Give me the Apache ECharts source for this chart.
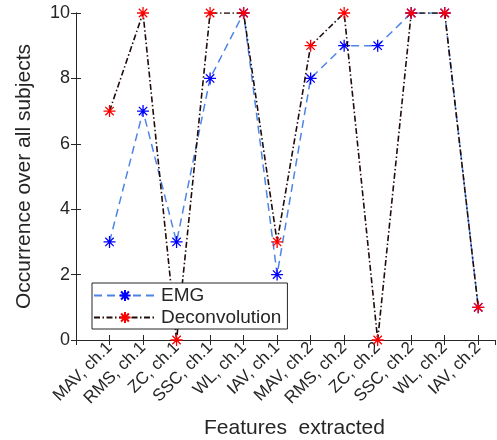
<!DOCTYPE html>
<html>
<head>
<meta charset="utf-8">
<script src="https://cdn.jsdelivr.net/npm/echarts@6/dist/echarts.min.js"></script>
<style>html,body{margin:0;padding:0;background:#fff}#c{width:497px;height:440px}</style>
</head>
<body>
<div id="c"></div>
<script>
const categories = ['MAV, ch.1','RMS, ch.1','ZC, ch.1','SSC, ch.1','WL, ch.1','IAV, ch.1','MAV, ch.2','RMS, ch.2','ZC, ch.2','SSC, ch.2','WL, ch.2','IAV, ch.2'];
const emgValues = [3, 7, 3, 8, 10, 2, 8, 9, 9, 10, 10, 1];
const deconvValues = [7, 10, 0, 10, 10, 3, 9, 10, 0, 10, 10, 1];
const yTicks = [0, 2, 4, 6, 8, 10];

const star = 'path://M0,-5L0,5M-5,0L5,0M-3.5,-3.5L3.5,3.5M-3.5,3.5L3.5,-3.5';
const font = 'Liberation Sans, Arial, Helvetica, sans-serif';
const toPairs = arr => arr.map((v, i) => [i + 1, v]);

const chart = echarts.init(document.getElementById('c'), null, {renderer: 'canvas'});
chart.setOption({
  animation: false,
  backgroundColor: '#fff',
  grid: {left: 76, right: 2, top: 13, bottom: 100, containLabel: false, outerBoundsMode: 'none'},
  xAxis: [{
    type: 'value', min: 0, max: 12.5, interval: 1,
    name: 'Features  extracted', nameLocation: 'middle', nameGap: 78,
    nameTextStyle: {fontFamily: font, fontSize: 21, color: '#262626', padding: [0, 0, 0, 18]},
    axisLine: {show: true, lineStyle: {color: '#262626', width: 1}},
    axisTick: {show: true, inside: true, length: 5, lineStyle: {color: '#262626'}},
    axisLabel: {rotate: 45, fontFamily: font, fontSize: 17, color: '#262626', margin: 5,
      showMinLabel: false, showMaxLabel: false,
      formatter: v => (Number.isInteger(v) && v >= 1 && v <= categories.length) ? categories[v - 1] : ''},
    splitLine: {show: false}
  }, {
    type: 'value', position: 'top', min: 0, max: 12.5, interval: 1,
    axisLine: {show: true, lineStyle: {color: '#262626', width: 1}},
    axisTick: {show: true, inside: true, length: 5, lineStyle: {color: '#262626'}},
    axisLabel: {show: false}, splitLine: {show: false}
  }],
  yAxis: [{
    type: 'value', min: yTicks[0], max: yTicks[yTicks.length - 1], interval: 2,
    name: 'Occurrence over all subjects', nameLocation: 'middle', nameGap: 41,
    nameTextStyle: {fontFamily: font, fontSize: 21, color: '#262626'},
    axisLine: {show: true, lineStyle: {color: '#262626', width: 1}},
    axisTick: {show: true, inside: true, length: 5, lineStyle: {color: '#262626'}},
    axisLabel: {fontFamily: font, fontSize: 18, color: '#262626', margin: 6},
    splitLine: {show: false}
  }, {
    type: 'value', position: 'right', min: yTicks[0], max: yTicks[yTicks.length - 1], interval: 2,
    axisLine: {show: true, lineStyle: {color: '#262626', width: 1}},
    axisTick: {show: true, inside: true, length: 5, lineStyle: {color: '#262626'}},
    axisLabel: {show: false}, splitLine: {show: false}
  }],
  legend: {
    left: 92, top: 283, orient: 'vertical',
    backgroundColor: '#fff', borderColor: '#262626', borderWidth: 1,
    padding: [3, 6, 2, 1], itemGap: 3, itemWidth: 62, itemHeight: 14,
    textStyle: {fontFamily: font, fontSize: 19, color: '#262626'},
    data: ['EMG', 'Deconvolution']
  },
  series: [{
    name: 'EMG', type: 'line', data: toPairs(emgValues),
    symbol: star, symbolSize: 12,
    itemStyle: {color: 'none', borderColor: '#0000ff', borderWidth: 1.3},
    lineStyle: {color: '#4d84e6', width: 1.5, type: [8, 5]},
    z: 2
  }, {
    name: 'Deconvolution', type: 'line', data: toPairs(deconvValues),
    symbol: star, symbolSize: 12,
    itemStyle: {color: 'none', borderColor: '#ff0000', borderWidth: 1.3},
    lineStyle: {color: '#1f0a0a', width: 1.6, type: [6, 2.5, 1.5, 2.5]},
    z: 3
  }]
});
</script>
</body>
</html>
